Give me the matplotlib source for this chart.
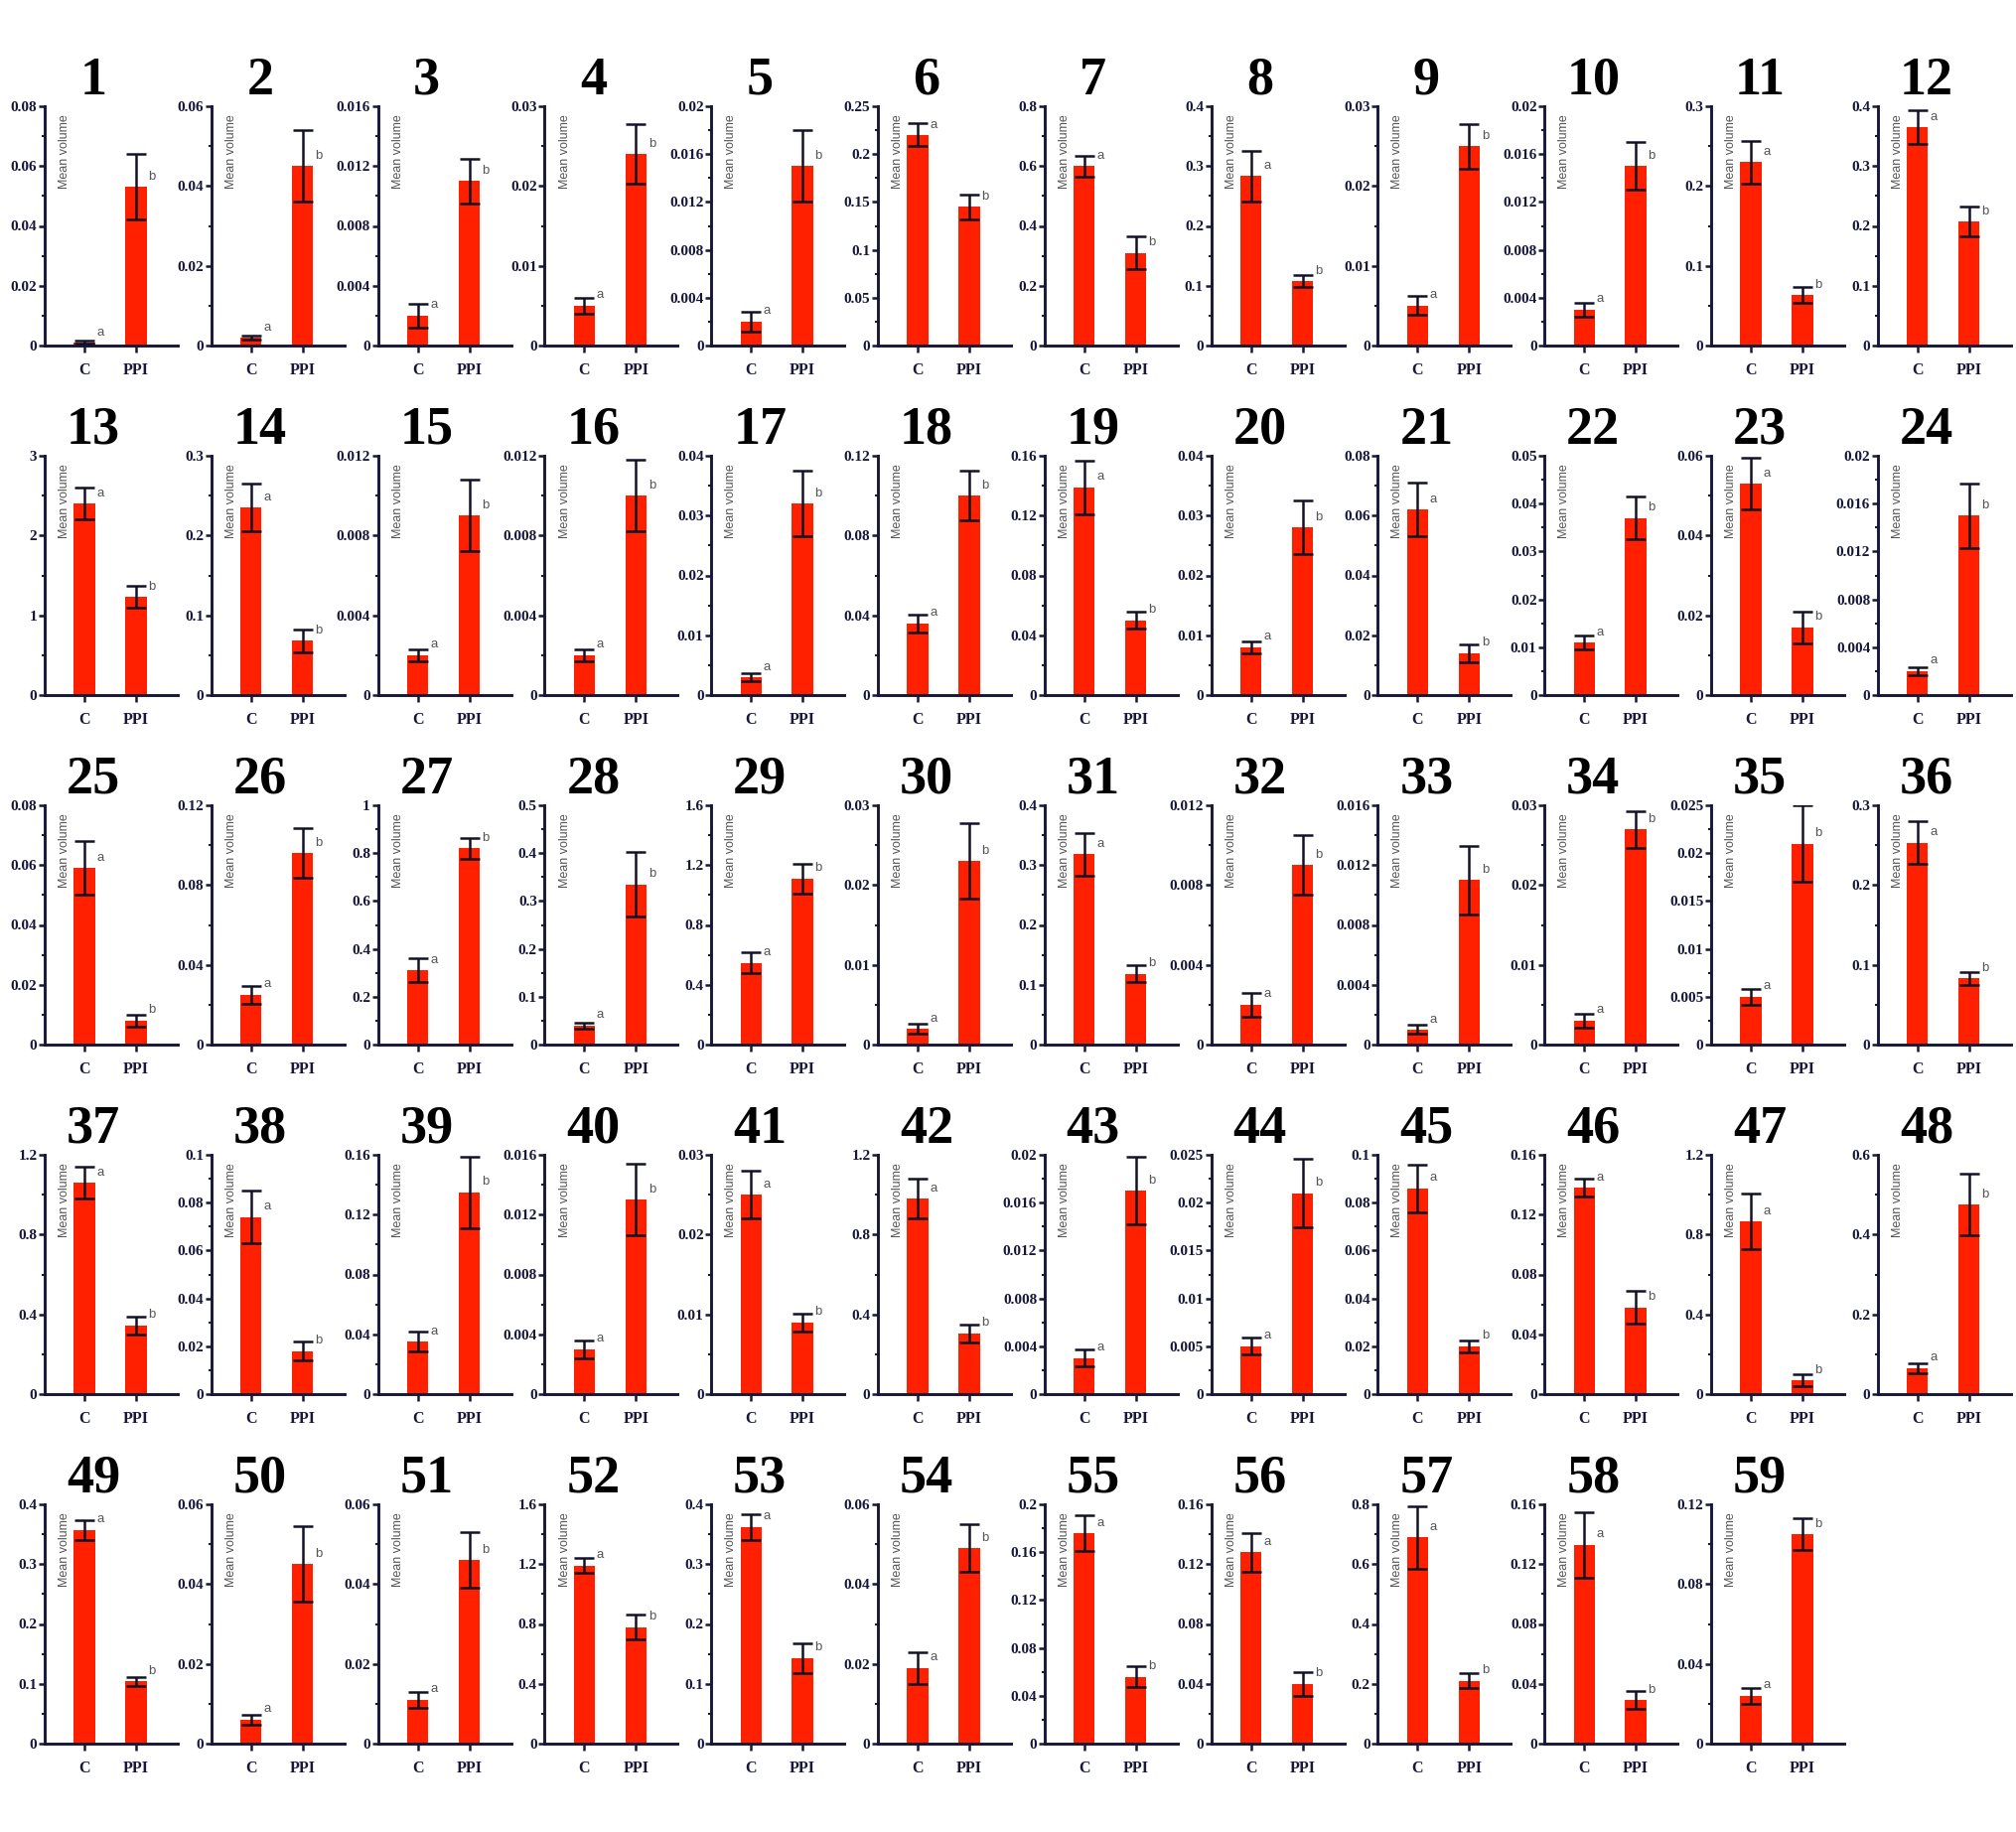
import numpy as np
import matplotlib
matplotlib.use("Agg")
import matplotlib.pyplot as plt
from matplotlib.ticker import FixedLocator, FuncFormatter

# ---------------- data ----------------
panel_ids = list(range(1, 60))
groups = ["C", "PPI"]
group_letters = ["a", "b"]

y_max = [0.08, 0.06, 0.016, 0.03, 0.02, 0.25, 0.8, 0.4, 0.03, 0.02, 0.3, 0.4,
         3, 0.3, 0.012, 0.012, 0.04, 0.12, 0.16, 0.04, 0.08, 0.05, 0.06, 0.02,
         0.08, 0.12, 1, 0.5, 1.6, 0.03, 0.4, 0.012, 0.016, 0.03, 0.025, 0.3,
         1.2, 0.1, 0.16, 0.016, 0.03, 1.2, 0.02, 0.025, 0.1, 0.16, 1.2, 0.6,
         0.4, 0.06, 0.06, 1.6, 0.4, 0.06, 0.2, 0.16, 0.8, 0.16, 0.12]
y_step = [0.02, 0.02, 0.004, 0.01, 0.004, 0.05, 0.2, 0.1, 0.01, 0.004, 0.1, 0.1,
          1, 0.1, 0.004, 0.004, 0.01, 0.04, 0.04, 0.01, 0.02, 0.01, 0.02, 0.004,
          0.02, 0.04, 0.2, 0.1, 0.4, 0.01, 0.1, 0.004, 0.004, 0.01, 0.005, 0.1,
          0.4, 0.02, 0.04, 0.004, 0.01, 0.4, 0.004, 0.005, 0.02, 0.04, 0.4, 0.2,
          0.1, 0.02, 0.02, 0.4, 0.1, 0.02, 0.04, 0.04, 0.2, 0.04, 0.04]

c_mean = [0.001, 0.002, 0.002, 0.005, 0.002, 0.22, 0.6, 0.283, 0.005, 0.003, 0.23, 0.365,
          2.4, 0.235, 0.002, 0.002, 0.003, 0.036, 0.139, 0.008, 0.062, 0.011, 0.053, 0.002,
          0.059, 0.025, 0.31, 0.04, 0.545, 0.002, 0.318, 0.002, 0.001, 0.003, 0.005, 0.253,
          1.06, 0.074, 0.035, 0.003, 0.025, 0.98, 0.003, 0.005, 0.086, 0.138, 0.865, 0.065,
          0.357, 0.006, 0.011, 1.19, 0.362, 0.019, 0.176, 0.128, 0.69, 0.133, 0.024]
c_err = [0.0005, 0.0005, 0.0008, 0.001, 0.0008, 0.012, 0.035, 0.042, 0.0012, 0.0006, 0.027, 0.028,
         0.2, 0.03, 0.0003, 0.0003, 0.0007, 0.0045, 0.018, 0.001, 0.009, 0.0015, 0.0065, 0.0003,
         0.009, 0.0045, 0.05, 0.006, 0.07, 0.0006, 0.036, 0.0006, 0.0003, 0.0009, 0.0008, 0.027,
         0.08, 0.011, 0.0065, 0.0006, 0.003, 0.1, 0.0007, 0.0009, 0.01, 0.006, 0.14, 0.013,
         0.016, 0.0012, 0.002, 0.05, 0.022, 0.004, 0.015, 0.013, 0.105, 0.022, 0.004]
ppi_mean = [0.053, 0.045, 0.011, 0.024, 0.015, 0.145, 0.31, 0.108, 0.025, 0.015, 0.063, 0.207,
            1.23, 0.068, 0.009, 0.010, 0.032, 0.100, 0.050, 0.028, 0.014, 0.037, 0.017, 0.015,
            0.008, 0.096, 0.82, 0.335, 1.11, 0.023, 0.118, 0.009, 0.011, 0.027, 0.021, 0.083,
            0.345, 0.018, 0.135, 0.013, 0.009, 0.305, 0.017, 0.021, 0.020, 0.058, 0.07, 0.475,
            0.104, 0.045, 0.046, 0.78, 0.143, 0.049, 0.056, 0.040, 0.21, 0.029, 0.105]
ppi_err = [0.011, 0.009, 0.0015, 0.0037, 0.003, 0.013, 0.055, 0.01, 0.0028, 0.002, 0.01, 0.025,
           0.14, 0.014, 0.0018, 0.0018, 0.0055, 0.0125, 0.0055, 0.0045, 0.003, 0.0045, 0.004, 0.0027,
           0.002, 0.0125, 0.045, 0.067, 0.1, 0.0047, 0.014, 0.0015, 0.0023, 0.0023, 0.004, 0.008,
           0.045, 0.004, 0.024, 0.0024, 0.0011, 0.045, 0.0028, 0.0036, 0.0025, 0.011, 0.03, 0.077,
           0.007, 0.0095, 0.007, 0.08, 0.025, 0.006, 0.009, 0.008, 0.025, 0.006, 0.008]

# ---------------- style ----------------
W, H = 2031, 1845
DPI = 100
NAVY = "#17173a"
ERR = "#121226"
RED = "#ff2000"
GRAY = "#555555"
SERIF = ["Liberation Serif", "DejaVu Serif"]
SANS = ["Liberation Sans", "DejaVu Sans"]

plt.rcParams["font.family"] = SERIF

fig = plt.figure(figsize=(W / DPI, H / DPI), dpi=DPI)

ncols = 12
x_pos = np.arange(len(groups))
col_pitch = 167.8
row_pitch = 352
ax_w_px, ax_h_px = 134, 241

for i, pid in enumerate(panel_ids):
    r, c = divmod(i, ncols)
    left_px = 45 + col_pitch * c
    bottom_px = 348 + row_pitch * r
    ax = fig.add_axes([left_px / W, (H - bottom_px) / H, ax_w_px / W, ax_h_px / H])

    means = [c_mean[i], ppi_mean[i]]
    errs = [c_err[i], ppi_err[i]]
    ax.bar(x_pos, means, width=0.41, color=RED, zorder=2)
    ax.errorbar(x_pos, means, yerr=errs, fmt="none", ecolor=ERR,
                elinewidth=1.8, capsize=7, capthick=1.8, zorder=3)

    for xp, m, lt in zip(x_pos, means, group_letters):
        ax.annotate(lt, xy=(xp + 0.2, m), xytext=(1.5, 7.5),
                    textcoords="offset points", ha="left", va="center",
                    fontsize=9.5, color=GRAY, family=SANS, zorder=4)

    ymax = y_max[i]
    n = int(round(ymax / y_step[i]))
    ax.set_ylim(0, ymax)
    ax.set_xlim(-0.77, 1.81)
    ax.yaxis.set_major_locator(FixedLocator(np.linspace(0, ymax, n + 1)))
    ax.yaxis.set_minor_locator(FixedLocator(np.linspace(0, ymax, 2 * n + 1)))
    ax.yaxis.set_major_formatter(FuncFormatter(lambda v, p: f"{round(v, 6):g}"))
    ax.set_xticks(x_pos)
    ax.set_xticklabels(groups)

    for side in ("top", "right"):
        ax.spines[side].set_visible(False)
    for side in ("left", "bottom"):
        ax.spines[side].set_color(NAVY)
        ax.spines[side].set_linewidth(2.1)

    ax.tick_params(axis="y", which="major", direction="out", length=4, width=1.8,
                   color=NAVY, pad=1.5, labelsize=11, labelcolor=NAVY)
    ax.tick_params(axis="y", which="minor", direction="out", length=2.5, width=1.5,
                   color=NAVY)
    ax.tick_params(axis="x", which="major", direction="out", length=5, width=1.8,
                   color=NAVY, pad=7, labelsize=11.5, labelcolor=NAVY)
    for lab in ax.get_yticklabels() + ax.get_xticklabels():
        lab.set_fontweight("bold")

    ax.text(0.15, 0.965, "Mean volume", transform=ax.transAxes, rotation=90,
            ha="center", va="top", fontsize=9, color=GRAY, family=SANS)

    ax.text(0.366, 1.05, str(pid), transform=ax.transAxes, ha="center",
            va="baseline", fontsize=39, fontweight="bold", color="black")

fig.savefig("out.png", dpi=DPI, facecolor="white")
